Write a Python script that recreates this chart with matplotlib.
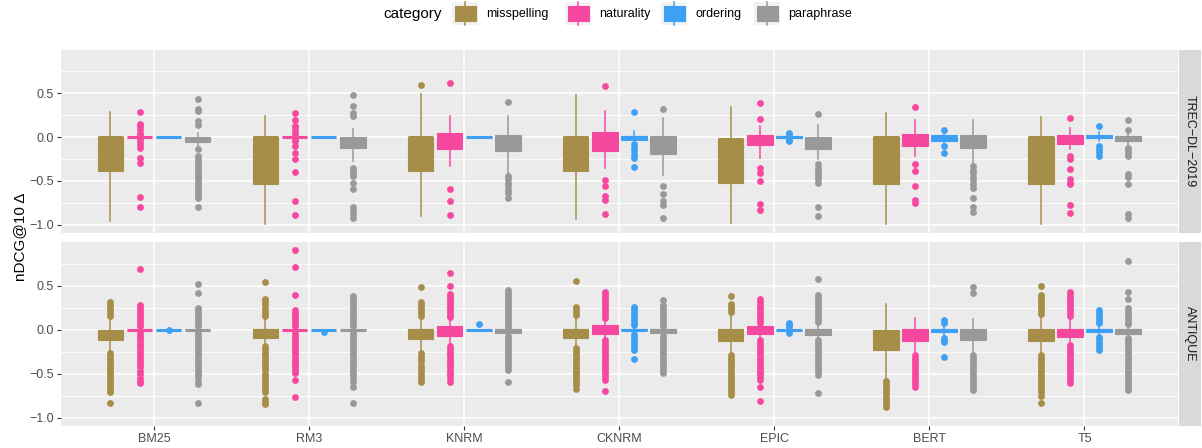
import numpy as np
import matplotlib
matplotlib.use('Agg')
from matplotlib import pyplot as plt
from matplotlib.patches import Rectangle

plt.rcParams['font.family'] = ['Liberation Sans', 'DejaVu Sans']

models = ['BM25', 'RM3', 'KNRM', 'CKNRM', 'EPIC', 'BERT', 'T5']
categories = ['misspelling', 'naturality', 'ordering', 'paraphrase']
colors = ['#A68E48', '#F748A0', '#3EA0F5', '#999999']
panels = ['TREC\u2212DL\u22122019', 'ANTIQUE']

# box stats per model: [q1, median, q3, whisker low, whisker high]
trec_misspelling_box = [[-0.39, 0.0, 0.0, -0.955, 0.29], [-0.54, 0.0, 0.0, -0.99, 0.24],
                        [-0.39, 0.0, 0.0, -0.905, 0.495], [-0.385, 0.0, 0.0, -0.93, 0.485],
                        [-0.52, -0.02, -0.02, -0.98, 0.345], [-0.54, 0.0, 0.0, -0.99, 0.27],
                        [-0.54, 0.0, 0.0, -0.99, 0.23]]
trec_misspelling_out = [[], [], [0.60], [], [], [], []]

trec_naturality_box = [[0, 0, 0, 0, 0], [0, 0, 0, 0, 0],
                       [-0.14, 0.0, 0.05, -0.33, 0.245], [-0.163, 0.0, 0.057, -0.35, 0.30],
                       [-0.095, 0.0, 0.023, -0.235, 0.13], [-0.10, 0.0, 0.03, -0.22, 0.19],
                       [-0.076, 0.0, 0.027, -0.14, 0.106]]
trec_naturality_out = [[0.29, 0.155, 0.125, 0.09, 0.05, 0.02, -0.02, -0.06, -0.09, -0.12, -0.235, -0.29, -0.68, -0.80],
                       [0.28, 0.19, 0.13, 0.11, 0.07, 0.03, -0.03, -0.045, -0.10, -0.18, -0.25, -0.40, -0.73, -0.89],
                       [0.617, -0.595, -0.73, -0.89],
                       [0.587, -0.49, -0.56, -0.67, -0.72, -0.88],
                       [0.39, 0.205, -0.35, -0.41, -0.50, -0.765, -0.83],
                       [0.34, -0.31, -0.39, -0.56, -0.72, -0.75],
                       [0.22, -0.22, -0.25, -0.36, -0.48, -0.52, -0.54, -0.78, -0.87]]

trec_ordering_box = [[0, 0, 0, 0, 0], [0, 0, 0, 0, 0], [0, 0, 0, 0, 0],
                     [-0.03, 0.0, 0.01, -0.03, 0.07], [-0.01, 0.0, 0.01, -0.01, 0.01],
                     [-0.04, 0.0, 0.02, -0.07, 0.06], [-0.015, 0.0, 0.02, -0.05, 0.06]]
trec_ordering_out = [[], [], [],
                     [0.29, -0.08, -0.12, -0.16, -0.20, -0.235, -0.34],
                     [0.05, 0.03, -0.03, -0.05],
                     [0.087, -0.10, -0.186],
                     [0.125, -0.10, -0.14, -0.17, -0.22]]

trec_paraphrase_box = [[-0.057, -0.02, 0.0, -0.12, 0.05], [-0.12, -0.03, 0.0, -0.27, 0.095],
                       [-0.16, -0.02, 0.02, -0.41, 0.245], [-0.19, -0.03, 0.01, -0.435, 0.22],
                       [-0.13, -0.03, 0.0, -0.25, 0.14], [-0.12, -0.02, 0.023, -0.29, 0.19],
                       [-0.045, -0.02, 0.01, -0.09, 0.06]]
trec_paraphrase_out = [[0.43, 0.32, 0.30, 0.18, 0.14, -0.14, -0.22, -0.25, -0.28, -0.31, -0.34, -0.37, -0.40,
                        -0.43, -0.46, -0.49, -0.52, -0.55, -0.58, -0.61, -0.64, -0.67, -0.69, -0.80],
                       [0.485, 0.36, 0.28, 0.24, -0.35, -0.38, -0.41, -0.44, -0.52, -0.59, -0.80, -0.84, -0.88, -0.92],
                       [0.40, -0.44, -0.48, -0.52, -0.56, -0.60, -0.64, -0.69],
                       [0.32, -0.56, -0.65, -0.73, -0.78, -0.92],
                       [0.26, -0.31, -0.35, -0.39, -0.42, -0.45, -0.48, -0.52, -0.80, -0.90],
                       [-0.33, -0.37, -0.41, -0.45, -0.49, -0.53, -0.58, -0.69, -0.80, -0.86],
                       [0.197, 0.087, -0.12, -0.15, -0.18, -0.22, -0.42, -0.46, -0.53, -0.88, -0.92]]

ant_misspelling_box = [[-0.12, -0.02, 0.0, -0.26, 0.14], [-0.095, -0.01, 0.01, -0.17, 0.12],
                       [-0.11, -0.01, 0.01, -0.25, 0.125], [-0.10, -0.01, 0.01, -0.19, 0.14],
                       [-0.13, -0.02, 0.01, -0.28, 0.17], [-0.235, -0.02, 0.0, -0.56, 0.295],
                       [-0.13, -0.02, 0.01, -0.28, 0.16]]
ant_misspelling_out = [[0.31, 0.28, 0.25, 0.22, 0.19, 0.16, -0.27, -0.30, -0.33, -0.36, -0.39, -0.42, -0.45, -0.48,
                        -0.51, -0.54, -0.57, -0.60, -0.63, -0.66, -0.69, -0.71, -0.83],
                       [0.54, 0.35, 0.32, 0.29, 0.24, 0.21, 0.18, 0.15, -0.19, -0.22, -0.25, -0.28, -0.31, -0.34,
                        -0.37, -0.40, -0.43, -0.46, -0.50, -0.53, -0.56, -0.60, -0.63, -0.66, -0.69, -0.71, -0.79,
                        -0.82, -0.84],
                       [0.485, 0.31, 0.28, 0.25, 0.22, 0.19, 0.16, -0.27, -0.30, -0.33, -0.36, -0.40, -0.44, -0.47,
                        -0.50, -0.53, -0.56, -0.59],
                       [0.55, 0.26, 0.23, 0.20, 0.17, -0.21, -0.24, -0.27, -0.30, -0.33, -0.36, -0.39, -0.42, -0.45,
                        -0.48, -0.51, -0.54, -0.57, -0.60, -0.63, -0.67],
                       [0.38, 0.29, 0.26, 0.23, 0.20, -0.29, -0.32, -0.35, -0.38, -0.41, -0.44, -0.47, -0.50, -0.53,
                        -0.56, -0.59, -0.62, -0.65, -0.68, -0.71, -0.74],
                       [-0.58, -0.61, -0.64, -0.67, -0.70, -0.73, -0.76, -0.79, -0.82, -0.85, -0.88],
                       [0.50, 0.39, 0.36, 0.33, 0.30, 0.27, 0.24, 0.21, 0.18, -0.29, -0.32, -0.35, -0.38, -0.41,
                        -0.44, -0.47, -0.50, -0.53, -0.56, -0.59, -0.62, -0.65, -0.68, -0.71, -0.75, -0.83]]

ant_naturality_box = [[0, 0, 0, 0, 0], [0, 0, 0, 0, 0],
                      [-0.076, 0.0, 0.04, -0.17, 0.125], [-0.045, 0.0, 0.05, -0.11, 0.12],
                      [-0.05, 0.0, 0.04, -0.11, 0.07], [-0.13, -0.02, 0.01, -0.27, 0.13],
                      [-0.083, 0.0, 0.01, -0.17, 0.13]]
ant_naturality_out = [[0.69, 0.28, 0.25, 0.22, 0.19, 0.16, 0.13, 0.10, 0.07, 0.04, -0.04, -0.07, -0.10, -0.13,
                       -0.16, -0.19, -0.22, -0.25, -0.28, -0.31, -0.34, -0.37, -0.40, -0.43, -0.47, -0.50, -0.55,
                       -0.58, -0.61],
                      [0.90, 0.71, 0.39, 0.22, 0.19, 0.16, 0.13, 0.10, 0.07, 0.04, -0.04, -0.07, -0.10, -0.13,
                       -0.16, -0.19, -0.22, -0.25, -0.28, -0.31, -0.34, -0.37, -0.40, -0.43, -0.46, -0.49, -0.57,
                       -0.77],
                      [0.64, 0.49, 0.41, 0.38, 0.35, 0.32, 0.29, 0.26, 0.23, 0.20, 0.17, 0.14, -0.19, -0.22,
                       -0.25, -0.28, -0.31, -0.34, -0.37, -0.40, -0.43, -0.46, -0.49, -0.52, -0.55, -0.595],
                      [0.43, 0.40, 0.37, 0.34, 0.31, 0.28, 0.25, 0.22, 0.19, 0.16, 0.13, -0.12, -0.15, -0.18,
                       -0.21, -0.24, -0.27, -0.30, -0.33, -0.36, -0.39, -0.42, -0.45, -0.48, -0.51, -0.54, -0.575,
                       -0.70],
                      [0.35, 0.32, 0.29, 0.26, 0.23, 0.20, 0.17, 0.14, 0.11, 0.07, -0.12, -0.15, -0.18, -0.21,
                       -0.24, -0.27, -0.30, -0.33, -0.36, -0.39, -0.42, -0.45, -0.48, -0.51, -0.54, -0.575, -0.65,
                       -0.81],
                      [-0.29, -0.32, -0.35, -0.38, -0.41, -0.44, -0.47, -0.50, -0.53, -0.56, -0.59, -0.62, -0.65],
                      [0.43, 0.40, 0.37, 0.34, 0.31, 0.28, 0.25, 0.22, 0.19, 0.16, -0.18, -0.21, -0.24, -0.27,
                       -0.30, -0.33, -0.36, -0.39, -0.42, -0.45, -0.48, -0.51, -0.54, -0.57, -0.61]]

ant_ordering_box = [[0, 0, 0, 0, 0], [0, 0, 0, 0, 0], [0, 0, 0, 0, 0],
                    [-0.005, 0.0, 0.005, -0.04, 0.04], [0, 0, 0, 0, 0],
                    [-0.03, 0.0, 0.01, -0.09, 0.06], [-0.03, 0.0, 0.01, -0.08, 0.06]]
ant_ordering_out = [[0.0], [-0.03], [0.06],
                    [0.26, 0.23, 0.20, 0.17, 0.14, 0.11, 0.08, 0.05, -0.05, -0.08, -0.11, -0.14, -0.17, -0.20,
                     -0.235, -0.33],
                    [0.08, 0.05, 0.03, -0.02, -0.04],
                    [0.11, 0.08, -0.10, -0.12, -0.14, -0.31],
                    [0.22, 0.19, 0.16, 0.13, 0.10, 0.07, -0.08, -0.11, -0.14, -0.17, -0.20, -0.235]]

ant_paraphrase_box = [[0, 0, 0, 0, 0], [0, 0, 0, 0, 0],
                      [-0.04, 0.0, 0.01, -0.06, 0.02], [-0.04, 0.0, 0.01, -0.06, 0.02],
                      [-0.065, -0.01, 0.01, -0.10, 0.06], [-0.12, -0.02, 0.01, -0.27, 0.125],
                      [-0.045, -0.01, 0.01, -0.08, 0.04]]
ant_paraphrase_out = [[0.52, 0.42, 0.25, 0.22, 0.19, 0.16, 0.13, 0.10, 0.07, 0.04, -0.04, -0.07, -0.10, -0.13,
                       -0.16, -0.19, -0.22, -0.25, -0.28, -0.31, -0.34, -0.37, -0.40, -0.43, -0.46, -0.49, -0.52,
                       -0.55, -0.59, -0.62, -0.83],
                      [0.38, 0.35, 0.32, 0.29, 0.26, 0.23, 0.20, 0.17, 0.14, 0.11, 0.08, 0.04, -0.04, -0.07,
                       -0.10, -0.13, -0.16, -0.19, -0.22, -0.25, -0.28, -0.31, -0.34, -0.37, -0.40, -0.43, -0.46,
                       -0.49, -0.52, -0.56, -0.60, -0.65, -0.83],
                      [0.45, 0.42, 0.39, 0.36, 0.33, 0.30, 0.27, 0.24, 0.21, 0.18, 0.15, 0.12, 0.09, 0.06, 0.03,
                       -0.07, -0.10, -0.13, -0.16, -0.19, -0.22, -0.25, -0.28, -0.31, -0.34, -0.37, -0.40, -0.43,
                       -0.46, -0.595],
                      [0.34, 0.28, 0.25, 0.22, 0.19, 0.16, 0.13, 0.10, 0.07, 0.04, -0.07, -0.10, -0.13, -0.16,
                       -0.19, -0.22, -0.25, -0.28, -0.31, -0.34, -0.37, -0.40, -0.43, -0.46, -0.49],
                      [0.58, 0.39, 0.36, 0.33, 0.30, 0.27, 0.24, 0.21, 0.18, 0.15, 0.12, 0.09, -0.12, -0.15,
                       -0.18, -0.21, -0.24, -0.27, -0.30, -0.33, -0.36, -0.39, -0.42, -0.45, -0.48, -0.52, -0.72],
                      [0.485, 0.42, -0.29, -0.32, -0.35, -0.38, -0.41, -0.44, -0.47, -0.50, -0.53, -0.56, -0.59,
                       -0.62, -0.65, -0.69],
                      [0.78, 0.43, 0.35, 0.24, 0.21, 0.18, 0.15, 0.12, 0.09, 0.06, -0.09, -0.12, -0.15, -0.18,
                       -0.21, -0.24, -0.27, -0.30, -0.33, -0.36, -0.39, -0.42, -0.45, -0.48, -0.51, -0.54, -0.57,
                       -0.60, -0.63, -0.66, -0.69]]

trec_boxes = [trec_misspelling_box, trec_naturality_box, trec_ordering_box, trec_paraphrase_box]
trec_outs = [trec_misspelling_out, trec_naturality_out, trec_ordering_out, trec_paraphrase_out]
ant_boxes = [ant_misspelling_box, ant_naturality_box, ant_ordering_box, ant_paraphrase_box]
ant_outs = [ant_misspelling_out, ant_naturality_out, ant_ordering_out, ant_paraphrase_out]

W, H = 1202, 448


def frac(x0, y0, x1, y1):
    return [x0 / W, 1 - y1 / H, (x1 - x0) / W, (y1 - y0) / H]


def draw_panel(ax, boxes, outs):
    for j, c in enumerate(colors):
        stats = []
        for i in range(len(models)):
            q1, med, q3, lo, hi = boxes[j][i]
            stats.append(dict(q1=q1, med=med, q3=q3, whislo=lo, whishi=hi, fliers=outs[j][i]))
        pos = np.arange(len(models)) + (j - 1.5) * 0.1875
        ax.bxp(stats, positions=pos, widths=0.165, patch_artist=True, showcaps=False,
               boxprops=dict(facecolor=c, edgecolor=c, linewidth=0.8),
               medianprops=dict(color=c, linewidth=2.2, solid_capstyle='butt'),
               whiskerprops=dict(color=c, linewidth=1.1),
               flierprops=dict(marker='o', markerfacecolor=c, markeredgecolor='none', markersize=4.9))
    ax.set_facecolor('#EBEBEB')
    for s in ax.spines.values():
        s.set_visible(False)
    ax.set_xlim(-0.6, 6.6)
    ax.set_ylim(-1.095, 0.995)
    ax.set_yticks([-1.0, -0.5, 0.0, 0.5])
    ax.set_yticklabels(['\u22121.0', '\u22120.5', '0.0', '0.5'])
    ax.set_yticks([-0.75, -0.25, 0.25, 0.75], minor=True)
    ax.set_xticks(np.arange(len(models)))
    ax.grid(True, which='major', color='white', linewidth=1.1)
    ax.grid(True, which='minor', axis='y', color='white', linewidth=0.55)
    ax.set_axisbelow(True)
    ax.tick_params(axis='both', which='major', length=3, width=0.8, color='#333333',
                   labelcolor='#4D4D4D', labelsize=9, pad=2)
    ax.tick_params(axis='y', which='minor', length=0)


fig = plt.figure(figsize=(W / 100, H / 100), dpi=100)

ax1 = fig.add_axes(frac(61, 50, 1177.5, 233))
draw_panel(ax1, trec_boxes, trec_outs)
ax1.tick_params(axis='x', length=0, labelbottom=False)

ax2 = fig.add_axes(frac(61, 242, 1177.5, 426))
draw_panel(ax2, ant_boxes, ant_outs)
ax2.set_xticklabels(models)

# facet strips
for name, (y0, y1) in zip(panels, [(50, 233), (242, 426)]):
    sax = fig.add_axes(frac(1179, y0, 1201, y1))
    sax.set_facecolor('#D9D9D9')
    sax.set_xticks([])
    sax.set_yticks([])
    for s in sax.spines.values():
        s.set_visible(False)
    sax.text(0.5, 0.5, name, rotation=-90, ha='center', va='center', fontsize=9,
             color='#1A1A1A', transform=sax.transAxes)

fig.text(20 / W, 1 - 237 / H, 'nDCG@10 \u0394', rotation=90, ha='center', va='center', fontsize=11)

# legend on top
lax = fig.add_axes([0, 0, 1, 1])
lax.set_xlim(0, W)
lax.set_ylim(H, 0)
lax.axis('off')
lax.text(383, 14, 'category', fontsize=11, ha='left', va='center')
key_x = [452, 565, 661, 754]
for kx, c, lab in zip(key_x, colors, categories):
    lax.add_patch(Rectangle((kx, 2.5), 26, 23, facecolor='#F2F2F2', edgecolor='none'))
    lax.plot([kx + 13, kx + 13], [2.5, 25.5], color=c, linewidth=1.1)
    lax.add_patch(Rectangle((kx + 2.5, 6), 21, 15.5, facecolor=c, edgecolor=c, linewidth=0.8))
    lax.text(kx + 34, 14, lab, fontsize=9, ha='left', va='center')

fig.savefig('out.png', dpi=100)
